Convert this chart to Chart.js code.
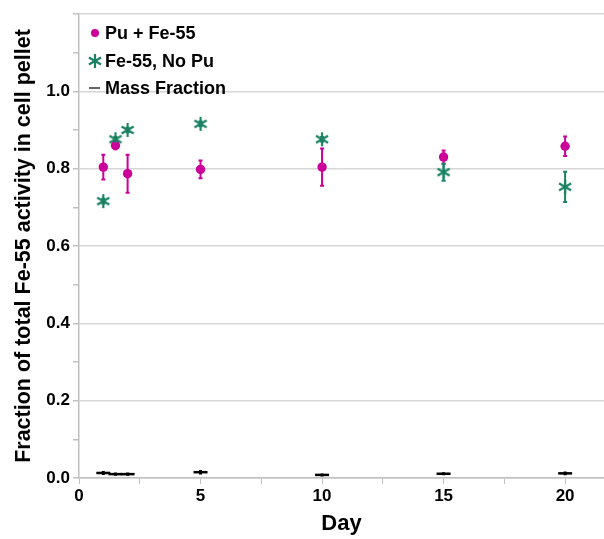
<!DOCTYPE html>
<html>
<head>
<meta charset="utf-8">
<script src="https://cdn.jsdelivr.net/npm/chart.js@4/dist/chart.umd.min.js"></script>
<style>
  html, body { margin: 0; padding: 0; background: #fff; }
  #wrap { width: 604px; height: 539px; }
</style>
</head>
<body>
<div id="wrap"><canvas id="fracChart" width="604" height="539"></canvas></div>
<script>
const days = [1, 1.5, 2, 5, 10, 15, 20];

const puFe = [0.804, 0.860, 0.787, 0.798, 0.804, 0.830, 0.858];
const puFeErr = [0.032, 0.010, 0.049, 0.023, 0.048, 0.017, 0.025];

const feNoPu = [0.716, 0.876, 0.900, 0.916, 0.876, 0.791, 0.753];
const feNoPuErr = [0.006, 0.006, 0.006, 0.006, 0.006, 0.022, 0.039];

const massFrac = [0.013, 0.010, 0.010, 0.015, 0.008, 0.011, 0.012];
const massFracErr = [0.003, 0.002, 0.002, 0.004, 0.002, 0.002, 0.003];

const xTickVals = [0, 2.5, 5, 7.5, 10, 12.5, 15, 17.5, 20];

const magenta = "#cc0099";
const green = "#1a8262";
const fontFam = "'Liberation Sans', Arial, sans-serif";

// six armed asterisk for the Fe-55 no Pu series
function makeAsterisk(size, color) {
    const c = document.createElement("canvas");
    c.width = size; c.height = size;
    const g = c.getContext("2d");
    const r = size / 2 - 1;
    g.strokeStyle = color;
    g.lineWidth = 2.2;
    g.translate(size / 2, size / 2);
    for (let k = 0; k < 3; k++) {
        const a = Math.PI / 2 + k * Math.PI / 3;
        g.beginPath();
        g.moveTo(Math.cos(a) * r, Math.sin(a) * r);
        g.lineTo(-Math.cos(a) * r, -Math.sin(a) * r);
        g.stroke();
    }
    return c;
}
const asterisk = makeAsterisk(16, green);

function toPoints(ys) {
    return days.map((d, i) => ({ x: d, y: ys[i] }));
}

// vertical error bars with small caps, drawn through the chart scales
const errorBars = {
    id: "errorBars",
    afterDatasetsDraw(chart) {
        const c = chart.ctx;
        const xs = chart.scales.x, ys = chart.scales.y;
        chart.data.datasets.forEach((ds) => {
            if (!ds.errors) return;
            c.save();
            c.strokeStyle = ds.errColor;
            c.lineWidth = ds.errWidth;
            ds.data.forEach((p, i) => {
                const e = ds.errors[i];
                const px = xs.getPixelForValue(p.x);
                const top = ys.getPixelForValue(p.y + e);
                const bot = ys.getPixelForValue(p.y - e);
                c.beginPath();
                c.moveTo(px, top); c.lineTo(px, bot);
                c.moveTo(px - ds.capHalf, top); c.lineTo(px + ds.capHalf, top);
                c.moveTo(px - ds.capHalf, bot); c.lineTo(px + ds.capHalf, bot);
                c.stroke();
            });
            c.restore();
        });
    }
};

// legend in the top left corner of the plot
const cornerLegend = {
    id: "cornerLegend",
    afterDraw(chart) {
        const c = chart.ctx;
        const left = chart.chartArea.left;
        const rows = [33, 61, 88];
        c.save();
        c.font = "bold 18px " + fontFam;
        c.textBaseline = "middle";
        chart.data.datasets.forEach((ds, i) => {
            const y = rows[i];
            const mx = left + 16;
            if (i === 0) {
                c.fillStyle = magenta;
                c.beginPath();
                c.arc(mx, y, 4, 0, Math.PI * 2);
                c.fill();
            } else if (i === 1) {
                c.drawImage(asterisk, mx - 8, y - 8);
            } else {
                c.strokeStyle = "#666";
                c.lineWidth = 2;
                c.beginPath();
                c.moveTo(mx - 6, y); c.lineTo(mx + 5, y);
                c.stroke();
            }
            c.fillStyle = "#000";
            c.fillText(ds.label, left + 26, y + 1);
        });
        c.restore();
    }
};

const ctx = document.getElementById("fracChart");
new Chart(ctx, {
    type: "scatter",
    data: {
        datasets: [
            {
                label: "Pu + Fe-55",
                data: toPoints(puFe),
                errors: puFeErr, errColor: magenta, errWidth: 2, capHalf: 2,
                pointStyle: "circle",
                pointRadius: 4.7,
                backgroundColor: magenta,
                borderColor: magenta,
                borderWidth: 0
            },
            {
                label: "Fe-55, No Pu",
                data: toPoints(feNoPu),
                errors: feNoPuErr, errColor: green, errWidth: 2, capHalf: 2,
                pointStyle: asterisk,
                pointRadius: 8,
                backgroundColor: green,
                borderColor: green
            },
            {
                label: "Mass Fraction",
                data: toPoints(massFrac),
                errors: massFracErr, errColor: "#000", errWidth: 1.5, capHalf: 1.5,
                pointStyle: "line",
                pointRadius: 7,
                borderWidth: 2.5,
                backgroundColor: "#000",
                borderColor: "#000"
            }
        ]
    },
    plugins: [errorBars, cornerLegend],
    options: {
        responsive: false,
        animation: false,
        events: [],
        layout: { autoPadding: false, padding: { top: 14, right: 0, left: 0, bottom: 0 } },
        plugins: {
            tooltip: { enabled: false },
            legend: { display: false }
        },
        scales: {
            x: {
                type: "linear",
                min: 0,
                max: 21.6,
                afterFit: (s) => { s.height = 61; s.paddingRight = 0; },
                afterBuildTicks: (s) => {
                    s.ticks = xTickVals.map(v => ({ value: v }));
                },
                ticks: {
                    autoSkip: false,
                    maxRotation: 0,
                    padding: 2,
                    color: "#000",
                    font: { family: fontFam, size: 17, weight: "bold" },
                    callback: (v) => (v % 5 === 0 ? String(v) : "")
                },
                grid: {
                    drawOnChartArea: false,
                    drawTicks: true,
                    tickLength: 6,
                    tickColor: "#c0c0c0"
                },
                border: { color: "#c0c0c0", width: 1.5 },
                title: {
                    display: true,
                    text: "Day",
                    color: "#000",
                    font: { family: fontFam, size: 22, weight: "bold" },
                    padding: { top: 0, bottom: 2 }
                }
            },
            y: {
                type: "linear",
                min: 0,
                max: 1.2,
                afterFit: (s) => { s.width = 79; },
                ticks: {
                    stepSize: 0.1,
                    autoSkip: false,
                    padding: 3,
                    color: "#000",
                    font: { family: fontFam, size: 17, weight: "bold" },
                    callback: (v) => {
                        const k = Math.round(v * 10);
                        return (k % 2 === 0 && k <= 10) ? (k / 10).toFixed(1) : "";
                    }
                },
                grid: {
                    tickLength: 6,
                    color: (c) => (Math.round(c.tick.value * 10) % 2 === 0 ? "#d6d6d6" : "rgba(0,0,0,0)"),
                    tickColor: "#c0c0c0",
                    lineWidth: 1.5
                },
                border: { color: "#c0c0c0", width: 1.5 },
                title: {
                    display: true,
                    text: "Fraction of total Fe-55 activity in cell pellet",
                    color: "#000",
                    font: { family: fontFam, size: 21.5, weight: "bold" },
                    padding: { top: 11, bottom: 0 }
                }
            }
        }
    }
});
</script>
</body>
</html>
